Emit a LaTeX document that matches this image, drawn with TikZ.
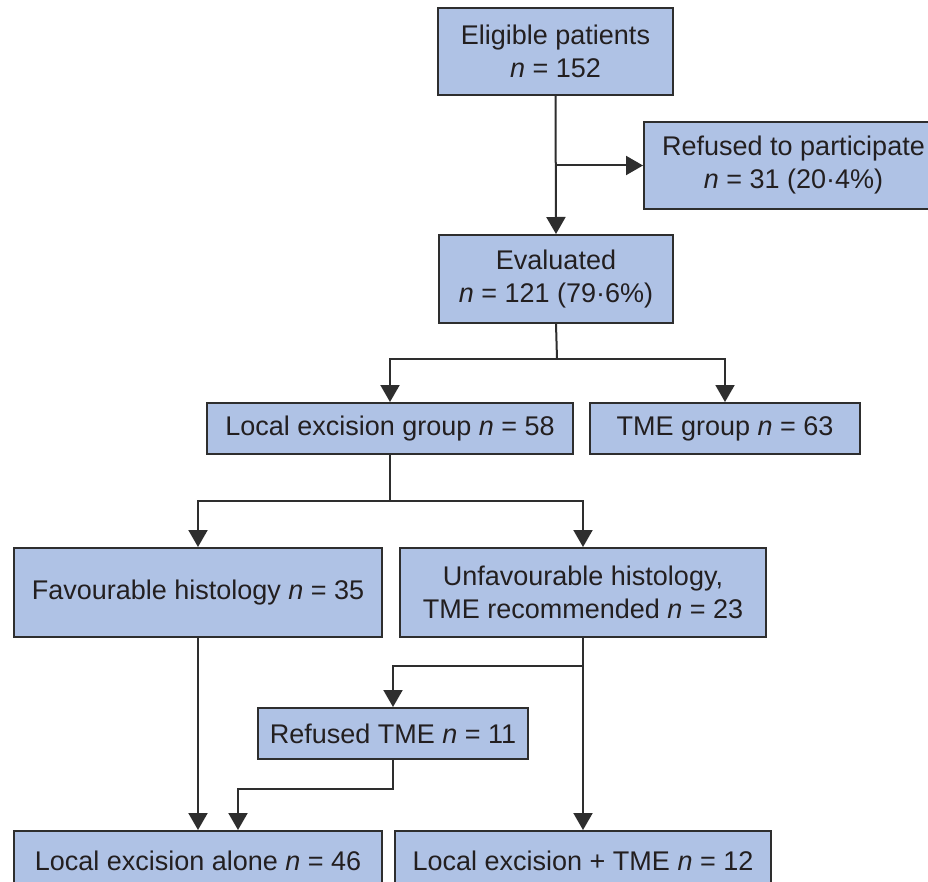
\documentclass[tikz,border=0pt]{standalone}
\usepackage{fontspec}
\setmainfont{Liberation Sans}
\usetikzlibrary{arrows.meta}
\definecolor{boxfill}{HTML}{AFC2E5}
\definecolor{linecol}{HTML}{2E2E2E}
\definecolor{textcol}{HTML}{231F20}
\begin{document}
\begin{tikzpicture}[x=1pt,y=-1pt,
  box/.style={draw=linecol, line width=2pt, fill=boxfill, rectangle, inner sep=0pt,
    align=center, text=textcol, font=\fontsize{27}{33}\selectfont},
  conn/.style={draw=linecol, line width=2pt},
  arr/.style={conn, -{Triangle[width=19pt,length=17pt]}}]
\useasboundingbox (0,0) rectangle (928,882);
\clip (0,0) rectangle (928,882);
\fill[white] (0,0) rectangle (928,882);
\node[box, minimum width=235pt, minimum height=87pt] (elig) at (555.5,51.5) {Eligible patients\\\textit{n} = 152};
\node[box, minimum width=299pt, minimum height=87pt] (refu) at (793.5,165.5) {Refused to participate\\\textit{n} = 31 (20·4\%)};
\node[box, minimum width=234pt, minimum height=88pt] (eval) at (556,279) {Evaluated\\\textit{n} = 121 (79·6\%)};
\node[box, minimum width=366pt, minimum height=51pt] (leg) at (390,428.5) {Local excision group \textit{n} = 58};
\node[box, minimum width=270pt, minimum height=51pt] (tme) at (725,428.5) {TME group \textit{n} = 63};
\node[box, minimum width=368pt, minimum height=89pt] (fav) at (198,592.5) {Favourable histology \textit{n} = 35};
\node[box, minimum width=366pt, minimum height=89pt] (unf) at (583,592.5) {Unfavourable histology,\\TME recommended \textit{n} = 23};
\node[box, minimum width=270pt, minimum height=51pt] (rtme) at (393,733.5) {Refused TME \textit{n} = 11};
\node[box, minimum width=368pt, minimum height=59pt] (lea) at (198,860.5) {Local excision alone \textit{n} = 46};
\node[box, minimum width=376pt, minimum height=59pt] (let) at (583,860.5) {Local excision + TME \textit{n} = 12};
% connectors
\coordinate (j1) at (elig.south |- refu.west);
\draw[arr] (elig.south) -- (eval.north);
\draw[arr] (j1) -- (refu.west);
\coordinate (j2) at (557,359);
\draw[conn] (eval.south) -- (j2);
\draw[arr] (j2) -| (leg.north);
\draw[arr] (j2) -| (tme.north);
\coordinate (j3) at (390,501);
\draw[conn] (leg.south) -- (j3);
\draw[arr] (j3) -| (fav.north);
\draw[arr] (j3) -| (unf.north);
\coordinate (j4) at (583,666);
\draw[arr] (unf.south) -- (let.north);
\draw[arr] (j4) -| (rtme.north);
\draw[arr] (fav.south) -- (lea.north);
\coordinate (j5) at (238,789);
\draw[arr] (rtme.south) |- (j5) -- (j5 |- lea.north);
\end{tikzpicture}
\end{document}
